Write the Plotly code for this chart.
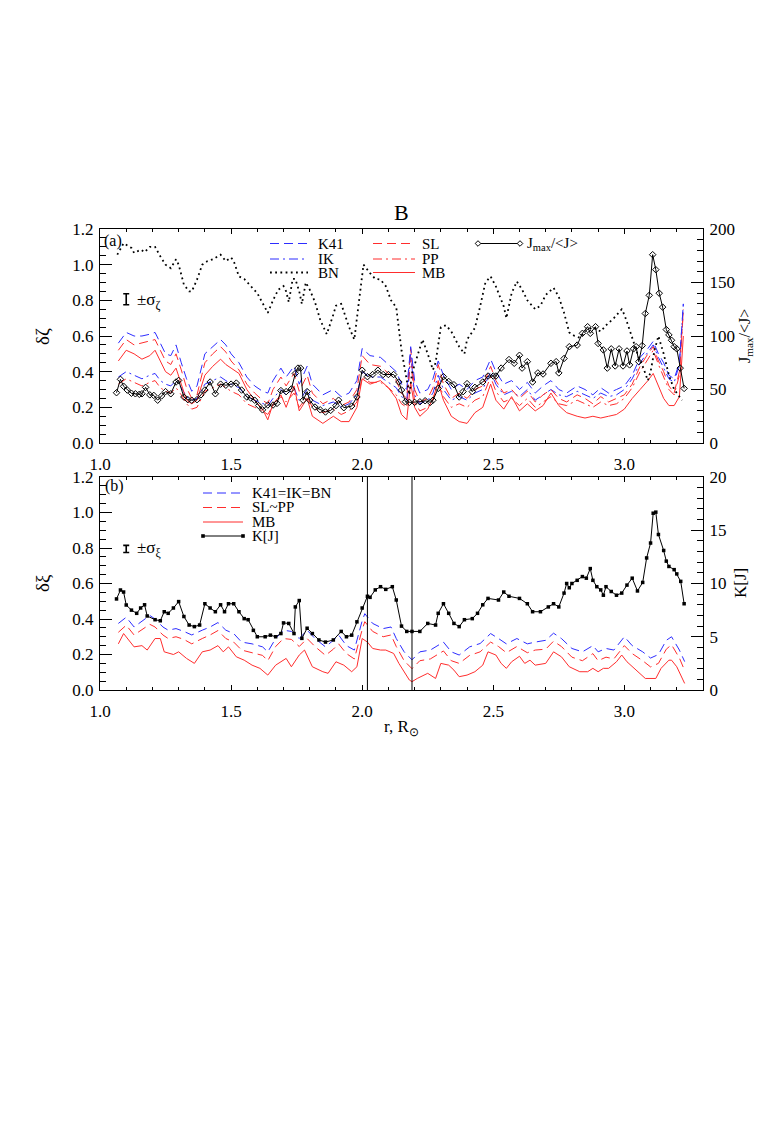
import plotly.graph_objects as go

# ---------------- DATA ----------------
# panel (a): J_max/<J> (right axis)
j_r = [1.063,1.078,1.09,1.104,1.12,1.135,1.15,1.16,1.174,1.19,1.205,1.22,1.235,1.25,1.27,
       1.29,1.30,1.32,1.335,1.35,1.37,1.385,1.40,1.42,1.44,1.46,1.48,1.50,1.52,1.54,
       1.56,1.575,1.59,1.605,1.62,1.64,1.66,1.675,1.69,1.71,1.73,1.745,1.755,1.765,1.775,
       1.79,1.80,1.82,1.84,1.86,1.88,1.90,1.91,1.93,1.96,1.98,2.00,2.02,2.04,2.06,
       2.08,2.10,2.12,2.14,2.15,2.165,2.18,2.20,2.22,2.24,2.26,2.27,2.29,2.31,2.33,
       2.35,2.37,2.385,2.40,2.42,2.43,2.46,2.48,2.50,2.51,2.53,2.56,2.58,2.60,2.61,
       2.63,2.65,2.67,2.69,2.72,2.74,2.75,2.77,2.79,2.82,2.84,2.86,2.87,2.89,2.90,
       2.92,2.935,2.95,2.965,2.98,2.995,3.01,3.02,3.035,3.045,3.055,3.068,3.08,3.095,3.108,
       3.12,3.133,3.146,3.16,3.17,3.18,3.19,3.20,3.213,3.228]
j_ratio = [47,59.5,53,49.5,46.5,46,45.5,46,52,45,44.5,40,44,48,46,
           57,58.5,43,40.5,40,40.5,45,49.5,57,46,55,54,55,56,49.5,
           43,42,40,35,31,35.5,35.5,37,49,48,50.5,65,70,70,40,
           48,40,33.6,31,29,30.5,35,40,33,34.5,43,68,62,64,68,
           64,64,64,57,49.5,38.6,38,38,38.5,39.5,38,40,51,62,57.5,
           54.5,43,48,55.5,48,52,57,62.6,62.6,62.6,70,78,74.5,82,70,
           76,57,65.5,64.5,74.5,76,65.5,79,90,91.5,102.5,108.7,102.5,108.7,93,
           87,70,88,72,88,72,86,73,88,90,76,91,121,138,176,
           162,140,127,106,101,96,90,88,70,51]

# panel (a): BN (dotted)
bn_r = [1.066,1.09,1.12,1.13,1.156,1.17,1.19,1.21,1.23,1.25,1.27,1.29,1.30,1.32,1.34,
        1.35,1.37,1.39,1.41,1.43,1.46,1.48,1.50,1.51,1.53,1.55,1.57,1.60,1.62,1.64,
        1.66,1.68,1.70,1.71,1.72,1.735,1.745,1.76,1.77,1.785,1.80,1.82,1.84,1.865,1.89,
        1.90,1.92,1.95,1.97,1.99,2.005,2.03,2.05,2.07,2.09,2.11,2.13,2.15,2.17,2.18,
        2.19,2.21,2.23,2.25,2.27,2.28,2.30,2.32,2.34,2.37,2.39,2.40,2.43,2.45,2.47,
        2.49,2.51,2.54,2.55,2.57,2.59,2.61,2.63,2.66,2.68,2.70,2.73,2.75,2.77,2.79,
        2.81,2.83,2.85,2.88,2.91,2.93,2.96,2.99,3.00,3.02,3.05,3.07,3.09,3.10,3.115,
        3.13,3.15,3.17,3.19,3.22]
bn_a = [1.056,1.12,1.094,1.066,1.084,1.07,1.10,1.10,1.047,1.0,0.98,1.03,1.0,0.888,0.85,
        0.85,0.916,1.0,1.02,1.03,1.056,1.02,1.04,1.02,0.934,0.92,0.888,0.84,0.785,0.73,
        0.80,0.86,0.88,0.85,0.79,0.92,0.92,0.85,0.78,0.90,0.86,0.79,0.69,0.61,0.72,
        0.77,0.78,0.65,0.58,0.83,1.0,0.953,0.92,0.916,0.88,0.80,0.76,0.52,0.34,0.27,
        0.39,0.49,0.58,0.50,0.41,0.45,0.65,0.66,0.625,0.54,0.50,0.58,0.645,0.766,0.90,
        0.934,0.878,0.766,0.70,0.84,0.906,0.86,0.80,0.75,0.77,0.83,0.87,0.82,0.73,0.62,
        0.60,0.59,0.625,0.65,0.625,0.66,0.70,0.75,0.72,0.635,0.50,0.43,0.35,0.40,0.52,
        0.60,0.50,0.38,0.30,0.24]

# panel (a): model curves, common r grid
mod_r = [1.07,1.10,1.13,1.16,1.19,1.21,1.23,1.25,1.27,1.29,1.31,1.33,1.35,1.37,1.40,
         1.43,1.46,1.48,1.50,1.53,1.56,1.59,1.62,1.64,1.66,1.69,1.71,1.74,1.76,1.79,
         1.81,1.85,1.89,1.92,1.95,1.98,2.00,2.03,2.07,2.10,2.13,2.15,2.17,2.185,2.20,
         2.22,2.25,2.27,2.29,2.31,2.34,2.37,2.40,2.43,2.46,2.49,2.51,2.54,2.57,2.60,
         2.63,2.66,2.69,2.72,2.75,2.78,2.82,2.85,2.88,2.91,2.94,2.97,3.00,3.03,3.06,
         3.09,3.11,3.13,3.15,3.17,3.19,3.21,3.225]
k41_a = [0.56,0.62,0.60,0.60,0.61,0.62,0.56,0.50,0.49,0.55,0.45,0.36,0.29,0.32,0.50,
         0.54,0.58,0.55,0.50,0.45,0.37,0.32,0.29,0.28,0.35,0.42,0.37,0.43,0.33,0.43,
         0.33,0.27,0.30,0.26,0.28,0.35,0.53,0.49,0.48,0.44,0.40,0.33,0.30,0.54,0.35,
         0.28,0.30,0.36,0.46,0.38,0.30,0.33,0.30,0.35,0.37,0.47,0.40,0.33,0.35,0.30,
         0.34,0.28,0.32,0.35,0.30,0.28,0.32,0.30,0.27,0.31,0.28,0.30,0.32,0.38,0.48,
         0.53,0.57,0.50,0.45,0.38,0.36,0.45,0.78]
ik_a = [0.37,0.40,0.38,0.36,0.38,0.39,0.35,0.33,0.32,0.35,0.31,0.26,0.24,0.25,0.33,
        0.35,0.37,0.35,0.33,0.31,0.26,0.24,0.22,0.21,0.25,0.30,0.27,0.31,0.24,0.30,
        0.24,0.21,0.23,0.20,0.22,0.27,0.40,0.37,0.37,0.34,0.31,0.26,0.24,0.50,0.27,
        0.22,0.24,0.28,0.38,0.30,0.24,0.26,0.24,0.28,0.30,0.40,0.33,0.27,0.29,0.26,
        0.30,0.24,0.27,0.30,0.27,0.26,0.29,0.27,0.25,0.28,0.26,0.27,0.30,0.36,0.45,
        0.51,0.55,0.48,0.42,0.36,0.34,0.44,0.78]
sl_a = [0.52,0.58,0.55,0.56,0.57,0.58,0.52,0.46,0.44,0.50,0.41,0.31,0.25,0.27,0.45,
        0.50,0.54,0.51,0.46,0.41,0.33,0.28,0.24,0.22,0.30,0.37,0.32,0.39,0.29,0.38,
        0.28,0.22,0.25,0.21,0.23,0.30,0.49,0.44,0.43,0.39,0.35,0.28,0.25,0.53,0.30,
        0.23,0.25,0.31,0.44,0.33,0.25,0.28,0.25,0.30,0.32,0.43,0.35,0.28,0.30,0.25,
        0.29,0.23,0.27,0.30,0.25,0.23,0.27,0.25,0.22,0.26,0.23,0.25,0.27,0.33,0.43,
        0.50,0.54,0.46,0.40,0.32,0.28,0.40,0.75]
pp_a = [0.33,0.36,0.34,0.32,0.34,0.35,0.31,0.29,0.28,0.31,0.27,0.22,0.19,0.20,0.29,
        0.31,0.33,0.31,0.29,0.27,0.22,0.20,0.18,0.16,0.21,0.26,0.23,0.28,0.20,0.26,
        0.20,0.17,0.19,0.16,0.18,0.23,0.37,0.34,0.34,0.31,0.27,0.22,0.20,0.48,0.23,
        0.18,0.20,0.24,0.35,0.26,0.20,0.22,0.20,0.24,0.26,0.37,0.29,0.23,0.25,0.21,
        0.25,0.20,0.23,0.26,0.22,0.21,0.24,0.22,0.20,0.23,0.21,0.22,0.25,0.31,0.40,
        0.47,0.52,0.44,0.37,0.30,0.27,0.38,0.74]
mb_a = [0.46,0.52,0.50,0.47,0.49,0.52,0.46,0.40,0.38,0.42,0.33,0.24,0.22,0.24,0.38,
        0.43,0.47,0.44,0.42,0.39,0.30,0.24,0.19,0.13,0.22,0.27,0.20,0.32,0.18,0.25,
        0.15,0.11,0.15,0.12,0.12,0.20,0.36,0.33,0.35,0.31,0.25,0.16,0.13,0.34,0.20,
        0.15,0.19,0.25,0.34,0.24,0.15,0.12,0.11,0.17,0.20,0.33,0.24,0.19,0.26,0.18,
        0.22,0.18,0.21,0.28,0.21,0.17,0.15,0.14,0.15,0.14,0.15,0.16,0.19,0.25,0.30,
        0.35,0.39,0.32,0.25,0.21,0.21,0.26,0.60]

# panel (b): K[J] (right axis)
kj_r = [1.063,1.078,1.09,1.10,1.12,1.14,1.155,1.17,1.18,1.21,1.23,1.245,1.26,1.28,1.30,
        1.32,1.34,1.36,1.38,1.40,1.42,1.44,1.46,1.475,1.49,1.51,1.53,1.55,1.565,1.585,
        1.60,1.63,1.65,1.67,1.69,1.70,1.72,1.74,1.745,1.76,1.77,1.79,1.81,1.835,1.86,
        1.89,1.92,1.94,1.96,1.98,2.00,2.02,2.03,2.05,2.07,2.09,2.115,2.13,2.15,2.17,
        2.19,2.22,2.25,2.28,2.29,2.31,2.33,2.35,2.37,2.39,2.42,2.44,2.46,2.48,2.52,
        2.54,2.56,2.60,2.63,2.65,2.68,2.71,2.73,2.75,2.77,2.78,2.79,2.80,2.82,2.84,
        2.855,2.87,2.88,2.895,2.91,2.92,2.93,2.95,2.97,2.99,3.01,3.03,3.05,3.07,3.085,
        3.10,3.11,3.12,3.13,3.15,3.16,3.17,3.19,3.20,3.215,3.228]
kj = [8.55,9.39,9.2,7.98,7.5,7.2,7.7,8.0,6.95,6.6,6.5,7.35,7.2,7.7,8.3,
      6.9,6.1,5.95,6.1,8.1,7.7,7.35,8.0,7.35,8.1,8.1,7.35,6.7,6.6,5.6,
      5.0,5.0,5.15,5.0,5.3,6.3,6.25,5.3,7.8,8.4,4.85,5.8,5.3,4.7,4.5,
      4.7,5.5,5.0,5.15,6.4,7.7,8.8,8.7,9.4,9.7,9.45,9.7,8.45,6.0,5.5,
      5.5,5.5,6.25,6.1,7.2,8.1,7.2,6.25,5.95,6.6,6.7,7.2,8.0,8.6,8.45,
      9.2,8.8,8.6,8.1,7.35,7.35,7.8,8.1,7.8,9.1,10.0,9.6,10.0,10.3,10.65,
      10.5,11.4,10.3,9.7,9.4,8.9,9.7,9.25,8.9,9.1,9.85,10.5,9.3,10.1,12.4,
      13.8,16.6,16.7,14.6,13.1,12.1,11.6,11.3,10.9,10.2,8.1]

# panel (b): K41=IK=BN and SL~PP
b_r = [1.07,1.10,1.13,1.16,1.19,1.21,1.24,1.26,1.29,1.32,1.35,1.39,1.42,1.45,1.48,
       1.51,1.54,1.58,1.62,1.64,1.67,1.70,1.73,1.76,1.79,1.82,1.86,1.89,1.91,1.94,
       1.97,2.00,2.01,2.04,2.08,2.11,2.13,2.16,2.19,2.22,2.26,2.31,2.34,2.37,2.41,
       2.45,2.49,2.52,2.55,2.59,2.63,2.66,2.70,2.73,2.76,2.80,2.84,2.88,2.90,2.93,
       2.96,3.00,3.03,3.07,3.10,3.13,3.16,3.18,3.21,3.23]
k41_b = [0.375,0.41,0.355,0.39,0.42,0.40,0.355,0.337,0.346,0.33,0.31,0.337,0.355,0.38,0.337,
         0.318,0.27,0.26,0.243,0.215,0.29,0.337,0.33,0.29,0.337,0.29,0.243,0.28,0.31,0.25,
         0.225,0.39,0.43,0.375,0.346,0.355,0.29,0.215,0.17,0.215,0.225,0.27,0.215,0.197,0.243,
         0.262,0.318,0.29,0.26,0.29,0.26,0.27,0.28,0.32,0.29,0.234,0.215,0.25,0.215,0.234,
         0.225,0.30,0.25,0.215,0.18,0.20,0.28,0.30,0.225,0.16]
sl_b = [0.325,0.365,0.31,0.34,0.37,0.355,0.31,0.29,0.30,0.285,0.26,0.29,0.31,0.335,0.29,
        0.27,0.225,0.21,0.195,0.165,0.245,0.29,0.285,0.245,0.29,0.245,0.195,0.23,0.26,0.205,
        0.175,0.34,0.385,0.33,0.30,0.31,0.245,0.165,0.12,0.165,0.175,0.22,0.165,0.15,0.195,
        0.215,0.27,0.245,0.21,0.245,0.21,0.225,0.23,0.275,0.245,0.185,0.165,0.205,0.165,0.185,
        0.175,0.25,0.205,0.165,0.13,0.15,0.23,0.255,0.18,0.11]

# panel (b): MB
mb_r = [1.07,1.09,1.13,1.16,1.18,1.21,1.23,1.245,1.28,1.30,1.33,1.36,1.39,1.42,1.45,
        1.47,1.49,1.52,1.55,1.58,1.61,1.64,1.67,1.71,1.73,1.76,1.78,1.81,1.85,1.87,
        1.90,1.93,1.96,1.98,2.00,2.02,2.04,2.07,2.09,2.12,2.14,2.18,2.19,2.21,2.25,
        2.28,2.30,2.33,2.35,2.37,2.40,2.43,2.46,2.48,2.51,2.53,2.55,2.57,2.60,2.62,
        2.64,2.66,2.70,2.73,2.76,2.79,2.83,2.86,2.88,2.90,2.92,2.94,2.97,2.99,3.01,
        3.05,3.08,3.12,3.14,3.17,3.18,3.20,3.23]
mb_b = [0.26,0.318,0.243,0.25,0.225,0.29,0.29,0.215,0.20,0.215,0.178,0.15,0.215,0.225,0.25,
        0.215,0.243,0.187,0.168,0.14,0.122,0.084,0.14,0.178,0.131,0.197,0.225,0.131,0.103,0.094,
        0.159,0.14,0.103,0.131,0.29,0.27,0.234,0.225,0.225,0.206,0.15,0.056,0.047,0.065,0.094,
        0.065,0.15,0.14,0.112,0.075,0.084,0.103,0.14,0.215,0.197,0.15,0.122,0.159,0.19,0.15,
        0.168,0.14,0.15,0.215,0.187,0.131,0.103,0.103,0.122,0.103,0.122,0.122,0.159,0.197,0.159,
        0.103,0.065,0.065,0.122,0.168,0.168,0.131,0.037]

# vertical markers in panel (b)
cut_r = [2.02, 2.19]
# typical uncertainties
sigma_zeta = 0.031
sigma_xi = 0.02

# ---------------- STYLE / LAYOUT ----------------
BLUE = 'rgb(45,45,255)'
RED = 'rgb(255,45,45)'
FONT = 'Liberation Serif, Times New Roman, serif'
DASH = '9px,5px'
DASHDOT = '9px,4px,2px,4px'
DOT = '1.8px,3.4px'

# the page body has an 8px margin: figure is drawn 8px right/down in the window
OFF = 8
W, H = 763 - OFF, 1146 - OFF
ML, MT = 100 - OFF, 229 - OFF
PW, PH = 603, 461
MR = W - ML - PW
MBOT = H - MT - PH


def pxx(xp):  # window pixel -> paper x
    return (xp - OFF - ML) / PW


def pyy(yp):  # window pixel -> paper y
    return (MT + PH - (yp - OFF)) / PH


TOP_DOM = [pyy(443), 1.0]
BOT_DOM = [0.0, pyy(477)]

fig = go.Figure()


def add_line(x, y, xa, ya, color, dash='solid', width=1.0):
    fig.add_trace(go.Scatter(x=x, y=y, xaxis=xa, yaxis=ya, mode='lines',
                             line=dict(color=color, width=width, dash=dash),
                             hoverinfo='skip'))


# panel (a)
add_line(mod_r, pp_a, 'x2', 'y3', RED, DASHDOT)
add_line(mod_r, ik_a, 'x2', 'y3', BLUE, DASHDOT)
add_line(mod_r, mb_a, 'x2', 'y3', RED, 'solid')
add_line(mod_r, sl_a, 'x2', 'y3', RED, DASH)
add_line(mod_r, k41_a, 'x2', 'y3', BLUE, DASH)
add_line(bn_r, bn_a, 'x2', 'y3', 'black', DOT, 1.8)
fig.add_trace(go.Scatter(x=j_r, y=j_ratio, xaxis='x2', yaxis='y4', mode='lines+markers',
                         line=dict(color='black', width=1),
                         marker=dict(symbol='diamond-open', size=5, color='black',
                                     line=dict(width=1, color='black')),
                         hoverinfo='skip'))
# sigma bar (a)
fig.add_trace(go.Scatter(x=[1.10], y=[0.806], xaxis='x2', yaxis='y3', mode='markers',
                         marker=dict(size=1, color='rgba(0,0,0,0)'),
                         error_y=dict(type='data', array=[sigma_zeta], color='black',
                                      thickness=1.6, width=3),
                         hoverinfo='skip'))

# panel (b)
add_line(mb_r, mb_b, 'x', 'y', RED, 'solid')
add_line(b_r, sl_b, 'x', 'y', RED, DASH)
add_line(b_r, k41_b, 'x', 'y', BLUE, DASH)
fig.add_trace(go.Scatter(x=kj_r, y=kj, xaxis='x', yaxis='y2', mode='lines+markers',
                         line=dict(color='black', width=1),
                         marker=dict(symbol='square', size=3.5, color='black'),
                         hoverinfo='skip'))
fig.add_trace(go.Scatter(x=[1.10], y=[0.795], xaxis='x', yaxis='y', mode='markers',
                         marker=dict(size=1, color='rgba(0,0,0,0)'),
                         error_y=dict(type='data', array=[sigma_xi], color='black',
                                      thickness=1.6, width=3),
                         hoverinfo='skip'))

tickfont = dict(family=FONT, size=17, color='black')


def xaxis_cfg(anchor):
    return dict(domain=[0, 1], anchor=anchor, range=[1.0, 3.3], tick0=1.0, dtick=0.5,
                tickformat='.1f', ticks='inside', ticklen=5, tickwidth=1, tickcolor='black',
                minor=dict(ticks='inside', dtick=0.1, tick0=1.0, ticklen=3, tickcolor='black'),
                showline=True, linecolor='black', linewidth=1, mirror='ticks',
                showgrid=False, zeroline=False, tickfont=tickfont, ticklabelstandoff=6)


def yleft_cfg(domain, anchor):
    return dict(domain=domain, anchor=anchor, range=[0, 1.2], tick0=0, dtick=0.2,
                tickformat='.1f', ticks='inside', ticklen=12, tickwidth=1, tickcolor='black',
                minor=dict(ticks='inside', dtick=0.05, ticklen=6, tickcolor='black'),
                showline=True, linecolor='black', linewidth=1, mirror=False,
                showgrid=False, zeroline=False, tickfont=tickfont, ticklabelstandoff=2)


def yright_cfg(over, anchor, rng, dt, mdt):
    return dict(overlaying=over, anchor=anchor, side='right', range=rng, tick0=0, dtick=dt,
                ticks='inside', ticklen=12, tickwidth=1, tickcolor='black',
                minor=dict(ticks='inside', dtick=mdt, ticklen=6, tickcolor='black'),
                showline=True, linecolor='black', linewidth=1,
                showgrid=False, zeroline=False, tickfont=tickfont, ticklabelstandoff=2)


shapes = []
for c in cut_r:
    shapes.append(dict(type='line', xref='x', yref='y domain', x0=c, x1=c, y0=0, y1=1,
                       line=dict(color='black', width=1)))


def leg_line(x0, x1, yp, color, dash='solid', width=1.0):
    shapes.append(dict(type='line', xref='paper', yref='paper', x0=pxx(x0), x1=pxx(x1),
                       y0=pyy(yp), y1=pyy(yp), line=dict(color=color, width=width, dash=dash)))


def leg_diamond(xc, yc, r=2.8):
    path = 'M {} {} L {} {} L {} {} L {} {} Z'.format(
        pxx(xc - r), pyy(yc), pxx(xc), pyy(yc - r), pxx(xc + r), pyy(yc), pxx(xc), pyy(yc + r))
    shapes.append(dict(type='path', xref='paper', yref='paper', path=path,
                       line=dict(color='black', width=1), fillcolor='white'))


def leg_square(xc, yc, r=1.8):
    shapes.append(dict(type='rect', xref='paper', yref='paper', x0=pxx(xc - r), x1=pxx(xc + r),
                       y0=pyy(yc + r), y1=pyy(yc - r), line=dict(width=0), fillcolor='black'))


annotations = []


def text(xp, yp, s, size=15, xanchor='left', angle=0):
    annotations.append(dict(xref='paper', yref='paper', x=pxx(xp), y=pyy(yp), text=s,
                            showarrow=False, xanchor=xanchor, yanchor='middle', textangle=angle,
                            font=dict(family=FONT, size=size, color='black')))


# legend (a)
rows_a = [243.5, 259, 272.5]
leg_line(270, 308, rows_a[0], BLUE, DASH)
leg_line(270, 308, rows_a[1], BLUE, DASHDOT)
leg_line(270, 308, rows_a[2], 'black', DOT, 1.8)
leg_line(373, 415, rows_a[0], RED, DASH)
leg_line(373, 415, rows_a[1], RED, DASHDOT)
leg_line(373, 415, rows_a[2], RED, 'solid')
leg_line(478, 520, rows_a[0], 'black', 'solid')
leg_diamond(478, rows_a[0])
leg_diamond(520, rows_a[0])
text(316, rows_a[0], 'K41')
text(316, rows_a[1], 'IK')
text(316, rows_a[2], 'BN')
text(420, rows_a[0], 'SL')
text(420, rows_a[1], 'PP')
text(420, rows_a[2], 'MB')
text(525, rows_a[0], 'J<sub>max</sub>/&lt;J&gt;')

# legend (b)
rows_b = [493, 507.5, 522, 536]
leg_line(203, 243, rows_b[0], BLUE, DASH)
leg_line(203, 243, rows_b[1], RED, DASH)
leg_line(203, 243, rows_b[2], RED, 'solid')
leg_line(203, 243, rows_b[3], 'black', 'solid')
leg_square(203, rows_b[3])
leg_square(243, rows_b[3])
text(250, rows_b[0], 'K41=IK=BN')
text(250, rows_b[1], 'SL~PP')
text(250, rows_b[2], 'MB')
text(250, rows_b[3], 'K[J]')

# panel labels, sigma labels, titles
text(113, 241, '(a)', 16, 'center')
text(114, 486, '(b)', 16, 'center')
text(135, 301, '±σ<sub>ζ</sub>', 17)
text(135, 549, '±σ<sub>ξ</sub>', 17)
text(401, 213, 'B', 22, 'center')
text(42, 336, 'δζ', 19, 'center', -90)
text(42, 583, 'δξ', 19, 'center', -90)
text(745, 336, 'J<sub>max</sub>/&lt;J&gt;', 16, 'center', -90)
text(740, 583, 'K[J]', 17, 'center', -90)
text(401, 728, 'r, R<sub>⊙</sub>', 17, 'center')

fig.update_layout(
    width=W, height=H, autosize=False,
    margin=dict(l=ML, r=MR, t=MT, b=MBOT, pad=0),
    paper_bgcolor='white', plot_bgcolor='white', showlegend=False,
    font=dict(family=FONT, size=15, color='black'),
    xaxis=xaxis_cfg('y'),
    xaxis2=xaxis_cfg('y3'),
    yaxis=yleft_cfg(BOT_DOM, 'x'),
    yaxis2=yright_cfg('y', 'x', [0, 20], 5, 1),
    yaxis3=yleft_cfg(TOP_DOM, 'x2'),
    yaxis4=yright_cfg('y3', 'x2', [0, 200], 50, 10),
    shapes=shapes, annotations=annotations,
)

fig.write_html('out.html')
